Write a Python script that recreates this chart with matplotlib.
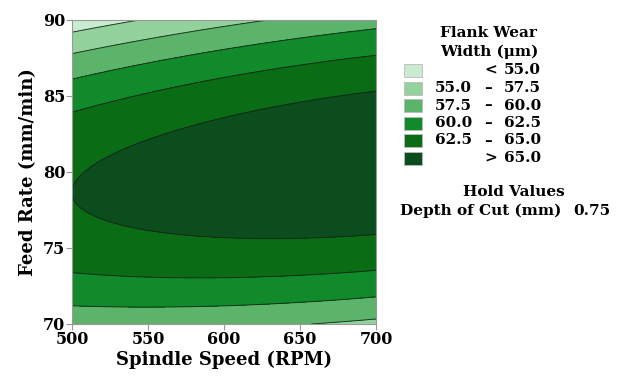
import numpy as np
import matplotlib.pyplot as plt
from matplotlib.patches import Rectangle

# fitted response surface for flank wear width (coded units, depth of cut held)
# u = (speed - 600) / 100, v = (feed - 80) / 10
term_names = ["const", "u", "v", "u*u", "v*v", "u*v"]
term_coefs = [66.39, 1.065, -0.666, -0.486, -9.0, 1.755]

speed_range = [500, 700]
feed_range = [70, 90]
speed_ticks = [500, 550, 600, 650, 700]
feed_ticks = [70, 75, 80, 85, 90]
hold_name = "Depth of Cut (mm)"
hold_value = 0.75

levels = [55.0, 57.5, 60.0, 62.5, 65.0]
band_colors = ["#c9ebd2", "#94d29d", "#5cb46a", "#118a2c", "#0a6c14", "#0c4d1e"]

plt.rcParams["font.family"] = "DejaVu Serif"
plt.rcParams["font.weight"] = "bold"


def wear(speed, feed):
    u = (speed - 600.0) / 100.0
    v = (feed - 80.0) / 10.0
    c = term_coefs
    return c[0] + c[1] * u + c[2] * v + c[3] * u * u + c[4] * v * v + c[5] * u * v


fig = plt.figure(figsize=(6.21, 3.76), dpi=100)
ax = fig.add_axes([72 / 621, 1 - 324 / 376, 304 / 621, 304 / 376])

sx = np.linspace(speed_range[0], speed_range[1], 300)
fy = np.linspace(feed_range[0], feed_range[1], 300)
S, F = np.meshgrid(sx, fy)
Z = wear(S, F)

bounds = [Z.min() - 1] + levels + [Z.max() + 1]
ax.contourf(S, F, Z, levels=bounds, colors=band_colors)
ax.contour(S, F, Z, levels=levels, colors="#142414", linewidths=0.7, alpha=0.85)

ax.set_xlim(speed_range)
ax.set_ylim(feed_range)
ax.set_xticks(speed_ticks)
ax.set_yticks(feed_ticks)
ax.tick_params(labelsize=11.5, length=4, color="#999999", pad=1)
for sp in ax.spines.values():
    sp.set_color("#999999")
    sp.set_linewidth(0.8)
ax.set_xlabel("Spindle Speed (RPM)", fontsize=13, fontweight="bold", labelpad=2)
ax.set_ylabel("Feed Rate (mm/min)", fontsize=13, fontweight="bold", labelpad=4)

# legend and hold values drawn in pixel space on an overlay
lg = fig.add_axes([0, 0, 1, 1])
lg.set_xlim(0, 621)
lg.set_ylim(376, 0)
lg.axis("off")

lg.text(488, 33, "Flank Wear", ha="center", va="center", fontsize=11)
lg.text(489, 52, "Width (\u03bcm)", ha="center", va="center", fontsize=11)

row_y = 70.5
for i, col in enumerate(band_colors):
    lg.add_patch(Rectangle((404, row_y - 6.5), 18, 13, facecolor=col,
                           edgecolor="#bbbbbb", linewidth=0.6))
    if i == 0:
        lg.text(491, row_y, "<", ha="center", va="center", fontsize=11)
        lg.text(541, row_y, f"{levels[0]:.1f}", ha="right", va="center", fontsize=11)
    elif i == len(band_colors) - 1:
        lg.text(491, row_y, ">", ha="center", va="center", fontsize=11)
        lg.text(541, row_y, f"{levels[-1]:.1f}", ha="right", va="center", fontsize=11)
    else:
        lg.text(472, row_y, f"{levels[i - 1]:.1f}", ha="right", va="center", fontsize=11)
        lg.text(488, row_y, "\u2013", ha="center", va="center", fontsize=11)
        lg.text(541, row_y, f"{levels[i]:.1f}", ha="right", va="center", fontsize=11)
    row_y += 17.5

lg.text(514, 192, "Hold Values", ha="center", va="center", fontsize=11)
lg.text(561, 211, hold_name, ha="right", va="center", fontsize=11)
lg.text(573, 211, f"{hold_value:.2f}", ha="left", va="center", fontsize=11)

fig.savefig("out.png", dpi=100)
